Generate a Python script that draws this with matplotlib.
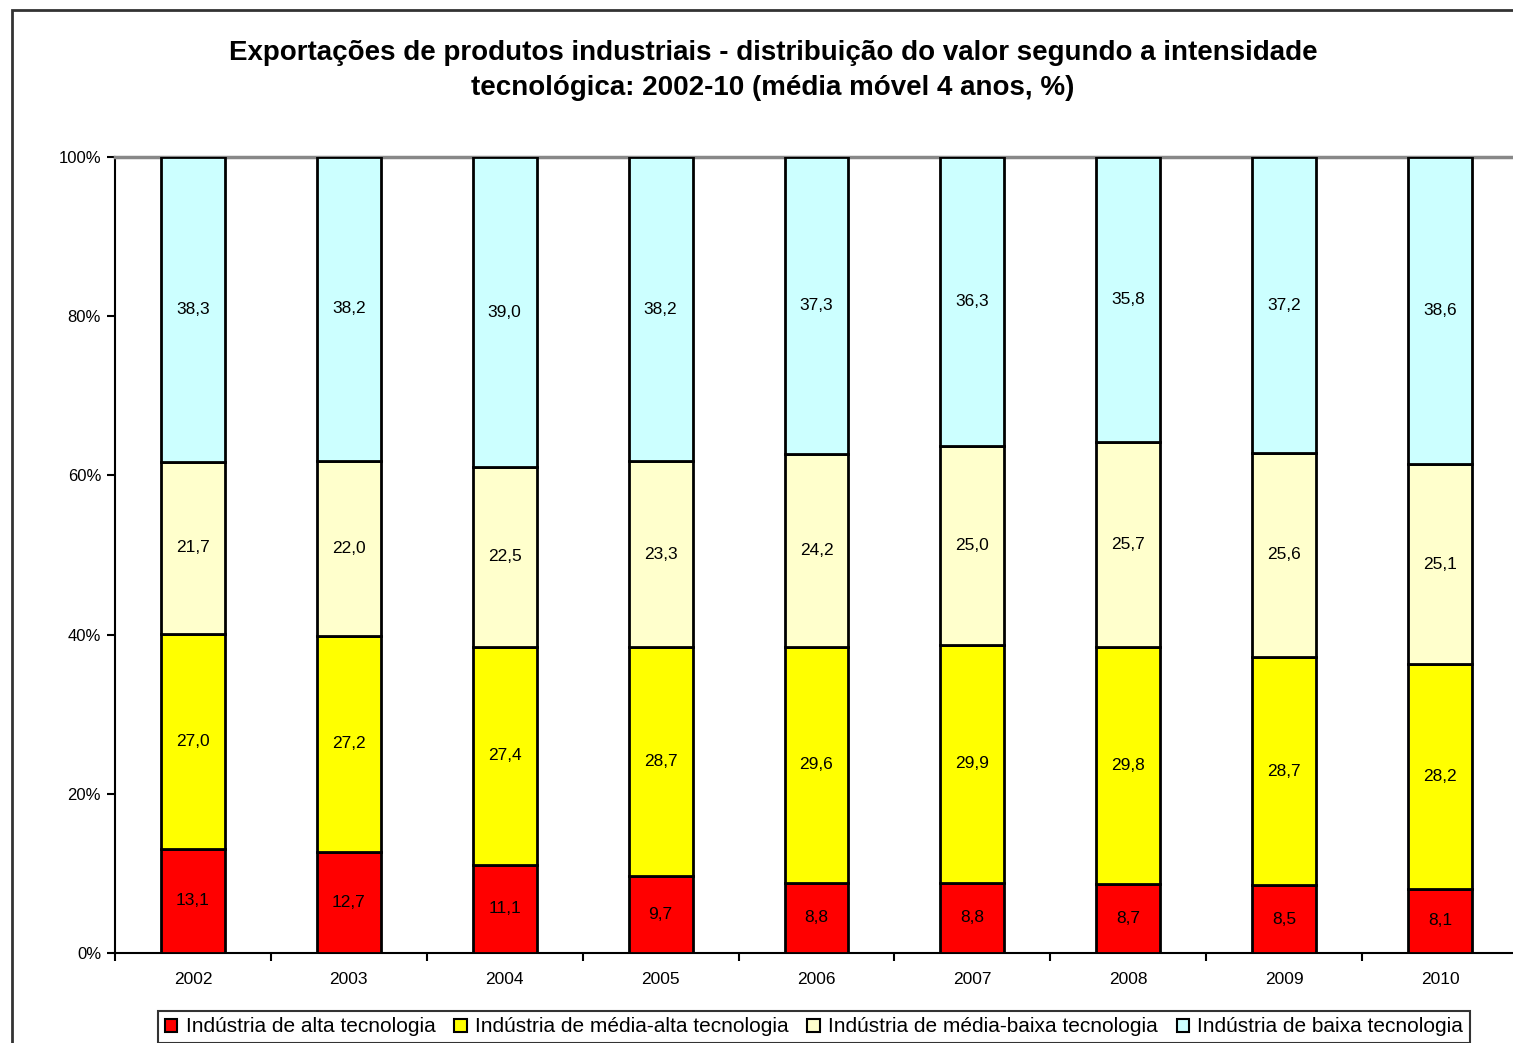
import matplotlib.pyplot as plt
import numpy as np
from matplotlib.patches import Rectangle

plt.rcParams['font.family'] = ['Liberation Sans', 'DejaVu Sans']

years = ['2002', '2003', '2004', '2005', '2006', '2007', '2008', '2009', '2010']
alta = [13.1, 12.7, 11.1, 9.7, 8.8, 8.8, 8.7, 8.5, 8.1]
media_alta = [27.0, 27.2, 27.4, 28.7, 29.6, 29.9, 29.8, 28.7, 28.2]
media_baixa = [21.7, 22.0, 22.5, 23.3, 24.2, 25.0, 25.7, 25.6, 25.1]
baixa = [38.3, 38.2, 39.0, 38.2, 37.3, 36.3, 35.8, 37.2, 38.6]

series_names = ['Indústria de alta tecnologia', 'Indústria de média-alta tecnologia',
                'Indústria de média-baixa tecnologia', 'Indústria de baixa tecnologia']
colors = ['#FF0000', '#FFFF00', '#FFFFCC', '#CCFFFF']

title = ('Exportações de produtos industriais - distribuição do valor segundo a intensidade\n'
         'tecnológica: 2002-10 (média móvel 4 anos, %)')

fig = plt.figure(figsize=(15.13, 10.43), dpi=100)
ax = fig.add_axes([0.076, 0.0863, 0.9273, 0.7632])

# outer chart-area frame
fig.patches.append(Rectangle((12 / 1513, -0.01), 1.02, 1 - 10 / 1043 + 0.01,
                             transform=fig.transFigure, fill=False,
                             edgecolor='#333333', linewidth=2))

data = np.array([alta, media_alta, media_baixa, baixa])
totals = data.sum(axis=0)
shares = data / totals * 100
x = np.arange(len(years))
bottom = np.zeros(len(years))
for i in range(4):
    ax.bar(x, shares[i], 0.41, bottom=bottom, color=colors[i],
           edgecolor='black', linewidth=2, label=series_names[i], zorder=3)
    for j in range(len(years)):
        ax.text(x[j], bottom[j] + shares[i][j] / 2, f'{data[i][j]:.1f}'.replace('.', ','),
                ha='center', va='center', fontsize=12.5, zorder=4)
    bottom += shares[i]

ax.set_xlim(-0.5, len(years) - 0.5)
ax.set_ylim(0, 100)
ax.set_yticks(np.arange(0, 101, 20))
ax.set_yticklabels([f'{v}%' for v in range(0, 101, 20)], fontsize=12)
ax.set_xticks(x)
ax.set_xticklabels(years, fontsize=12.5)
ax.tick_params(axis='x', length=0, pad=14)
ax.set_xticks(np.arange(-0.5, len(years), 1), minor=True)
ax.tick_params(axis='x', which='minor', length=6, width=1.5, direction='out')
ax.tick_params(axis='y', length=6, width=1.5, direction='out', pad=4)

ax.spines['top'].set_color('#888888')
ax.spines['top'].set_linewidth(2.5)
ax.spines['right'].set_visible(False)
ax.spines['left'].set_linewidth(1.5)
ax.spines['bottom'].set_linewidth(1.5)

fig.text(0.511, 0.932, title, ha='center', va='center', fontsize=20,
         fontweight='bold', linespacing=1.45)

leg = fig.legend(loc='center', bbox_to_anchor=(814 / 1513, 1 - 1027 / 1043), ncol=4,
                 fontsize=15, frameon=True, fancybox=False, handlelength=0.6,
                 handleheight=0.6, handletextpad=0.4, columnspacing=0.9,
                 borderpad=0.3)
leg.get_frame().set_edgecolor('black')
leg.get_frame().set_linewidth(1.5)
for h in leg.legend_handles:
    h.set_linewidth(1.5)

fig.savefig('out.png', dpi=100)
